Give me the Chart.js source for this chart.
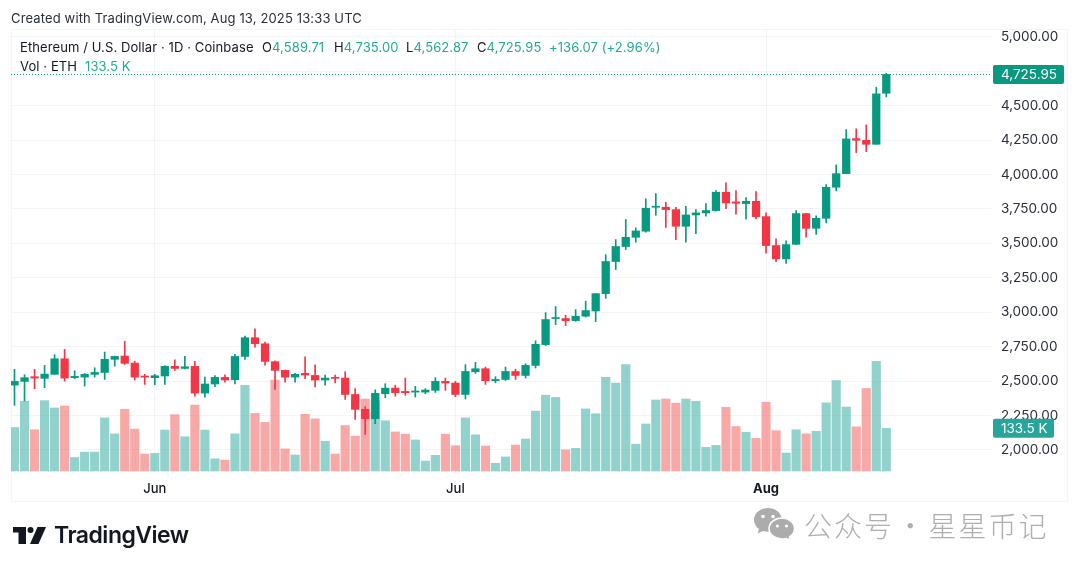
<!DOCTYPE html>
<html>
<head>
<meta charset="utf-8">
<style>
  html, body { margin: 0; padding: 0; background: #fff; }
  body { width: 1080px; height: 569px; position: relative; overflow: hidden; font-family: Inter, "Liberation Sans", sans-serif; color: #131722; }
  canvas { position: absolute; left: 0; top: 0; }
  .abs { position: absolute; white-space: pre; }
  #frame { position: absolute; left: 11px; top: 29px; width: 1057px; height: 473px; border: 1px solid #f4f5f8; box-sizing: border-box; }
  .legend { font-size: 13px; line-height: 18px; letter-spacing: 0.1px; }
  .legend b { font-weight: 400; color: #22ab94; }
</style>
</head>
<body>
<div id="frame"></div>
<canvas id="chart" width="1080" height="569"></canvas>

<div class="abs" style="left:11px;top:9px;font-size:13px;line-height:18px;letter-spacing:0.14px;color:#2a2e39">Created with TradingView.com, Aug 13, 2025 13:33 UTC</div>
<div class="abs legend" style="left:20px;top:38px">Ethereum / U.S. Dollar · 1D · Coinbase</div>
<div class="abs legend" style="left:262px;top:38px">O<b>4,589.71</b></div>
<div class="abs legend" style="left:334px;top:38px">H<b>4,735.00</b></div>
<div class="abs legend" style="left:406px;top:38px">L<b>4,562.87</b></div>
<div class="abs legend" style="left:477px;top:38px">C<b>4,725.95</b></div>
<div class="abs legend" style="left:549px;top:38px"><b>+136.07 (+2.96%)</b></div>
<div class="abs legend" style="left:20px;top:57px">Vol · ETH</div>
<div class="abs legend" style="left:85px;top:57px"><b>133.5 K</b></div>

<!-- TradingView mark -->
<svg class="abs" style="left:13px;top:527px" width="34" height="17" viewBox="0 0 34 17">
  <path d="M13 0H0v5.500h5.500V17H13V0Z" fill="#131722"/>
  <circle cx="17.500" cy="3" r="3" fill="#131722"/>
  <path d="M33 0H24.500L17 17H25.500L33 0Z" fill="#131722"/>
</svg>
<div class="abs" style="left:54px;top:520px;font-size:23px;line-height:30px;font-weight:600;letter-spacing:-0.5px;color:#131722">TradingView</div>

<!-- watermark -->
<svg class="abs" style="left:753px;top:506px" width="44" height="36" viewBox="0 0 44 36">
  <path d="M15 2C7.300 2 1 7.300 1 14c0 3.700 2 6.900 5 9.100L4.800 27.500l5-2.500c1.600.5 3.400.8 5.200.8 7.700 0 14-5.300 14-11.800S22.700 2 15 2Z" fill="#acacac"/>
  <path d="M29 12c-7.200 0-13 4.700-13 10.500S21.800 33 29 33c1.500 0 3-.2 4.300-.6l4.200 2.200-1-3.700c3-1.900 5-5 5-8.400C41.500 16.700 36.200 12 29 12Z" fill="#acacac" stroke="#fff" stroke-width="1.500"/>
  <circle cx="10" cy="10.500" r="1.800" fill="#fff"/>
  <circle cx="20" cy="10.500" r="1.800" fill="#fff"/>
  <circle cx="24.500" cy="20" r="1.600" fill="#fff"/>
  <circle cx="33.500" cy="20" r="1.600" fill="#fff"/>
</svg>
<div class="abs" style="left:804px;top:507px;font-family:'Noto Sans CJK SC';font-size:28px;line-height:36px;font-weight:300;letter-spacing:2px;word-spacing:-6px;color:#aeaeae">公众号 · 星星币记</div>

<script src="https://cdn.jsdelivr.net/npm/chart.js@4"></script>
<script>
// Daily candles, May 18 to Aug 13 2025
const opens = [
  2471, 2498, 2532, 2520, 2549, 2662, 2525, 2529, 2549, 2563,
  2658, 2682, 2631, 2537, 2525, 2537, 2607, 2592, 2607, 2413,
  2479, 2527, 2510, 2679, 2815, 2771, 2641, 2578, 2529, 2556,
  2541, 2508, 2527, 2522, 2403, 2295, 2227, 2408, 2449, 2425,
  2420, 2420, 2433, 2498, 2486, 2403, 2568, 2590, 2503, 2512,
  2570, 2541, 2614, 2765, 2954, 2954, 2939, 2971, 3009, 3135,
  3368, 3477, 3544, 3588, 3762, 3762, 3745, 3624, 3706, 3721,
  3738, 3871, 3801, 3789, 3805, 3694, 3484, 3387, 3493, 3716,
  3609, 3682, 3907, 4006, 4260, 4248, 4219, 4589.71,
]
const highs = [
  2585, 2546, 2585, 2614, 2692, 2730, 2575, 2556, 2597, 2711,
  2682, 2788, 2645, 2549, 2549, 2612, 2655, 2679, 2643, 2529,
  2541, 2546, 2694, 2827, 2880, 2783, 2648, 2580, 2556, 2677,
  2619, 2544, 2544, 2568, 2445, 2314, 2437, 2481, 2471, 2522,
  2462, 2445, 2525, 2522, 2498, 2619, 2636, 2602, 2532, 2602,
  2587, 2626, 2793, 2997, 3041, 2978, 3019, 3080, 3135, 3418,
  3527, 3673, 3612, 3823, 3861, 3798, 3762, 3769, 3745, 3789,
  3883, 3939, 3883, 3832, 3876, 3721, 3532, 3518, 3738, 3718,
  3699, 3927, 4069, 4326, 4331, 4360, 4633, 4735,
]
const lows = [
  2324, 2355, 2445, 2452, 2549, 2500, 2517, 2464, 2529, 2512,
  2609, 2621, 2508, 2476, 2474, 2476, 2578, 2588, 2391, 2384,
  2459, 2493, 2479, 2658, 2747, 2616, 2440, 2493, 2493, 2517,
  2457, 2471, 2486, 2367, 2222, 2113, 2191, 2379, 2391, 2396,
  2384, 2408, 2418, 2433, 2387, 2370, 2556, 2476, 2488, 2505,
  2512, 2522, 2595, 2758, 2910, 2903, 2934, 2966, 2932, 3101,
  3310, 3455, 3508, 3581, 3704, 3615, 3527, 3508, 3571, 3697,
  3733, 3752, 3711, 3675, 3677, 3428, 3367, 3355, 3491, 3544,
  3564, 3648, 3881, 4006, 4159, 4166, 4219, 4562.87,
]
const closes = [
  2498, 2525, 2522, 2551, 2662, 2522, 2534, 2549, 2563, 2658,
  2679, 2629, 2529, 2529, 2539, 2607, 2592, 2604, 2413, 2479,
  2527, 2508, 2679, 2815, 2771, 2643, 2578, 2529, 2549, 2544,
  2508, 2522, 2520, 2403, 2295, 2227, 2411, 2449, 2416, 2416,
  2428, 2435, 2498, 2486, 2403, 2570, 2590, 2503, 2512, 2570,
  2541, 2614, 2767, 2947, 2961, 2939, 2971, 3012, 3135, 3368,
  3477, 3544, 3590, 3755, 3769, 3745, 3624, 3706, 3721, 3738,
  3871, 3793, 3791, 3805, 3694, 3484, 3387, 3491, 3716, 3609,
  3682, 3907, 4006, 4258, 4248, 4219, 4585, 4725.95,
]
// Volume in thousands of ETH
const volumes = [
  136, 218, 129, 220, 197, 203, 42, 59, 59, 166,
  116, 193, 131, 53, 55, 128, 176, 107, 206, 128,
  38, 34, 116, 268, 180, 152, 284, 69, 50, 177,
  163, 93, 53, 142, 109, 225, 219, 157, 122, 115,
  97, 31, 49, 115, 79, 166, 113, 78, 24, 44,
  81, 100, 187, 237, 230, 66, 71, 194, 179, 293,
  275, 333, 84, 147, 222, 225, 212, 225, 218, 74,
  80, 199, 139, 121, 102, 215, 126, 56, 129, 116,
  124, 213, 283, 200, 138, 258, 343, 133.5,
]
const priceTicks = [5000, 4750, 4500, 4250, 4000, 3750, 3500, 3250, 3000, 2750, 2500, 2250, 2000]
const monthTicks = [14, 44, 75]
const monthLabels = ["Jun", "Jul", "Aug"]
const lastPrice = 4725.95
const lastVolume = 133.5

const GREEN = "#089981"
const RED = "#f23645"
const VOL_GREEN = "rgba(38, 166, 154, 0.5)"
const VOL_RED = "rgba(239, 83, 80, 0.5)"
const GRID = "#f3f4f6"
const FONT = "Inter, 'Liberation Sans', sans-serif"

const isUp = (i) => closes[i] >= opens[i]

// Last price line and the two badges on the price axis
const lastValuePlugin = {
  id: "lastValue",
  afterDatasetsDraw(chart) {
    const { ctx, chartArea, scales } = chart
    const priceY = scales.y.getPixelForValue(lastPrice)
    const volY = scales.yVol.getPixelForValue(lastVolume)

    ctx.save()
    ctx.strokeStyle = GREEN
    ctx.lineWidth = 1
    ctx.setLineDash([1, 2])
    ctx.beginPath()
    ctx.moveTo(chartArea.left, Math.round(priceY) + 0.5)
    ctx.lineTo(chartArea.right, Math.round(priceY) + 0.5)
    ctx.stroke()
    ctx.setLineDash([])

    const badge = (y, w, color, text) => {
      ctx.fillStyle = color
      ctx.beginPath()
      ctx.roundRect(chartArea.right + 2, y - 9.5, w, 19, 2)
      ctx.fill()
      ctx.fillStyle = "#fff"
      ctx.font = "13.5px " + FONT
      ctx.textBaseline = "middle"
      ctx.textAlign = "left"
      ctx.fillText(text, chartArea.right + 10, y + 0.5)
    }
    badge(volY, 61, "#26a69a", "133.5 K")
    badge(priceY, 71, GREEN, "4,725.95")
    ctx.restore()
  },
}

new Chart(document.getElementById("chart"), {
  type: "bar",
  data: {
    datasets: [
      {
        // candle bodies
        data: opens.map((o, i) => ({ x: i, y: [o, closes[i]] })),
        backgroundColor: opens.map((o, i) => (isUp(i) ? GREEN : RED)),
        barThickness: 7.6,
        minBarLength: 1,
        order: 1,
      },
      {
        // wicks
        data: highs.map((h, i) => ({ x: i, y: [lows[i], h] })),
        backgroundColor: opens.map((o, i) => (isUp(i) ? GREEN : RED)),
        barThickness: 1,
        order: 2,
      },
      {
        data: volumes.map((v, i) => ({ x: i, y: v })),
        backgroundColor: opens.map((o, i) => (isUp(i) ? VOL_GREEN : VOL_RED)),
        barThickness: 8.5,
        yAxisID: "yVol",
        order: 3,
      },
    ],
  },
  options: {
    responsive: false,
    animation: false,
    devicePixelRatio: 1,
    events: [],
    grouped: false,
    layout: { padding: { left: 11, right: 11, top: 29, bottom: 67 } },
    plugins: { legend: { display: false }, tooltip: { enabled: false } },
    scales: {
      x: {
        type: "linear",
        offset: false,
        min: -0.35,
        max: 97.45,
        afterBuildTicks: (axis) => {
          axis.ticks = monthTicks.map((value) => ({ value }))
        },
        afterFit: (axis) => {
          axis.height = 28
        },
        grid: { color: GRID, drawTicks: false, offset: false },
        border: { display: false },
        ticks: {
          autoSkip: false,
          maxRotation: 0,
          padding: 7,
          color: "#131722",
          font: (ctx) => ({ family: FONT, size: 13, weight: ctx.tick && ctx.tick.value === 75 ? "700" : "500" }),
          callback: (value) => monthLabels[monthTicks.indexOf(value)],
        },
      },
      y: {
        position: "right",
        min: 1825.7,
        max: 5055.9,
        afterBuildTicks: (axis) => {
          axis.ticks = priceTicks.map((value) => ({ value }))
        },
        afterFit: (axis) => {
          axis.width = 78
        },
        grid: { color: GRID, drawTicks: false },
        border: { display: false },
        ticks: {
          autoSkip: false,
          padding: 10,
          color: "#2a2e39",
          font: { family: FONT, size: 13.5 },
          callback: (value) => value.toLocaleString("en-US", { minimumFractionDigits: 2 }),
        },
      },
      yVol: {
        display: false,
        min: -9.4,
        max: 1381.7,
      },
    },
  },
  plugins: [lastValuePlugin],
})
</script>
</body>
</html>
